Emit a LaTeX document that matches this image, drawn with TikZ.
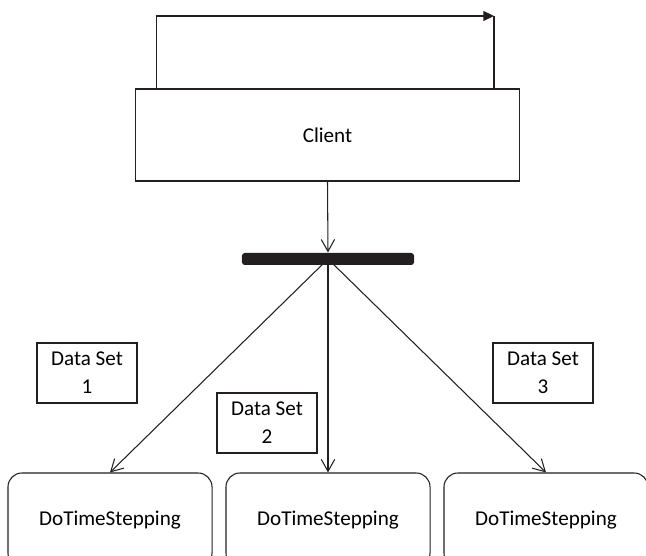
\documentclass[tikz,border=0pt]{standalone}
\usepackage{fontspec}
\setmainfont{Carlito}
\usetikzlibrary{arrows.meta, positioning, calc}
\definecolor{ink}{HTML}{231F20}

\tikzset{
  block/.style={draw=ink, line width=0.75pt, minimum width=9.575cm, minimum height=2.3cm},
  worker/.style={draw=ink, rounded corners=0.35cm, line width=0.75pt, minimum width=5.1cm, minimum height=2.35cm},
  dataset/.style={draw=ink, line width=0.75pt, minimum width=2.5cm, minimum height=1.5cm, align=center, inner sep=0pt},
  forkbar/.style={fill=ink, rounded corners=0.07cm, minimum width=4.3cm, minimum height=0.3cm, inner sep=0pt},
}

\begin{document}
\begin{tikzpicture}[x=0.025cm, y=-0.025cm, line width=0.75pt, draw=ink,
    font=\fontsize{15}{20}\selectfont,
    >={Straight Barb[length=8.5pt,width=9.5pt]}]
  \useasboundingbox (0,0) rectangle (646,556);

  \node[block] (client) at (327.5,135) {Client};
  \node[forkbar] (fork) at (328,259) {};

  \node[worker] (ts1) at (110,520) {DoTimeStepping};
  \node[worker] (ts2) at (328,520) {DoTimeStepping};
  \node[worker] (ts3) at (546,520) {DoTimeStepping};

  \node[dataset] (ds1) at (87,373) {Data Set\\1};
  \node[dataset] (ds2) at (267,423) {Data Set\\2};
  \node[dataset] (ds3) at (543,373) {Data Set\\3};

  % loop over the client
  \coordinate (loopend) at (494,16);
  \draw[-{Triangle[length=7.5pt,width=7pt]}] ([xshift=0.525cm]client.north west) |- (loopend);
  \draw (loopend) -- (loopend |- client.north);

  \draw[->] (client.south) -- (fork.north);
  \draw[->] (fork.center) -- (ts1.north);
  \draw[->] (fork.center) -- (ts2.north);
  \draw[->] (fork.center) -- (ts3.north);
\end{tikzpicture}
\end{document}
